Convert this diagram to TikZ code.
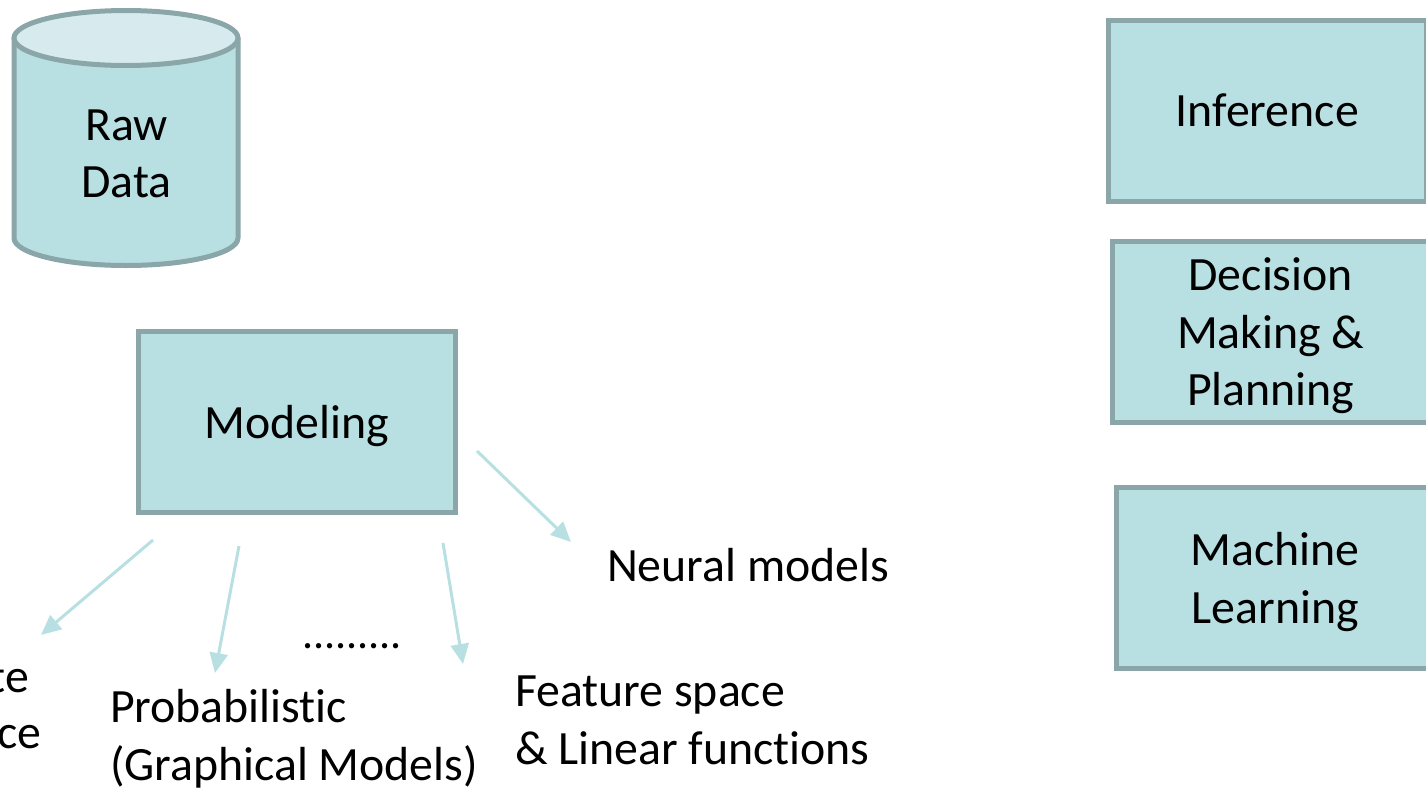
\documentclass[tikz,border=0pt]{standalone}
\usepackage{fontspec}
\setmainfont[Ligatures=NoCommon]{Carlito}
\usetikzlibrary{arrows.meta}
\definecolor{boxfill}{HTML}{B8DFE2}
\definecolor{boxedge}{HTML}{8AA6A9}
\definecolor{toplight}{HTML}{D7EBEE}
\tikzset{
  px/.style={x=0.5pt,y=-0.5pt},
  label/.style={font=\fontsize{23.9pt}{28.75pt}\selectfont,text=black,inner sep=0pt,outer sep=0pt,align=center},
  freetext/.style={label,anchor=base west,align=left},
  boxnode/.style={label,draw=boxedge,fill=boxfill,line width=2.5pt,line join=miter,rectangle,anchor=north west,text depth=0pt,minimum width=158.75pt,minimum height=90.5pt},
  cyl/.style={draw=boxedge,line width=2.5pt,line join=round},
  link/.style={draw=boxfill,line width=1.5pt,-{Triangle[length=10pt,width=9pt]}}
}
\begin{document}
\begin{tikzpicture}[px]
\useasboundingbox (0,0) rectangle (1426,788);
\clip (0,0) rectangle (1426,788);
% cylinder
\path[cyl,fill=boxfill] (14,38) -- (14,238) arc[x radius=112,y radius=27.5,start angle=180,end angle=0] -- (238,38) -- cycle;
\path[cyl,fill=toplight] (126,38) ellipse[x radius=112,y radius=27.5];
\node[label] (raw) at (126.5,154) {Raw\\Data};
% boxes
\node[boxnode] (modeling) at (138,331.5) {Modeling};
\node[boxnode] (inference) at (1108.5,20) {Inference};
\node[boxnode] (decision) at (1112,241.5) {Decision\\Making \&\\Planning};
\node[boxnode] (machine) at (1116.5,487.5) {Machine\\Learning};
% free text
\node[freetext] (neural) at (607,581) {Neural models};
\node[freetext] (feature) at (515,706) {Feature space};
\node[freetext] (linear) at (515,764) {\& Linear functions};
\node[freetext] (prob) at (110,722) {Probabilistic};
\node[freetext] (graph) at (110,780) {(Graphical Models)};
\node[freetext,font=\fontsize{22pt}{26pt}\selectfont] (dots) at (302,648) {.........};
\node[label,anchor=base east] (te) at (29,692) {te};
\node[label,anchor=base east] (ce) at (41,748) {ce};
% arrows
\coordinate (a1s) at (153,540); \coordinate (a1e) at (41,635);
\coordinate (a2s) at (239,546); \coordinate (a2e) at (215,673);
\coordinate (a3s) at (443,543); \coordinate (a3e) at (463,664);
\coordinate (a4s) at (477,451); \coordinate (a4e) at (571,542);
\draw[link] (a1s) -- (a1e);
\draw[link] (a2s) -- (a2e);
\draw[link] (a3s) -- (a3e);
\draw[link] (a4s) -- (a4e);
\end{tikzpicture}
\end{document}
